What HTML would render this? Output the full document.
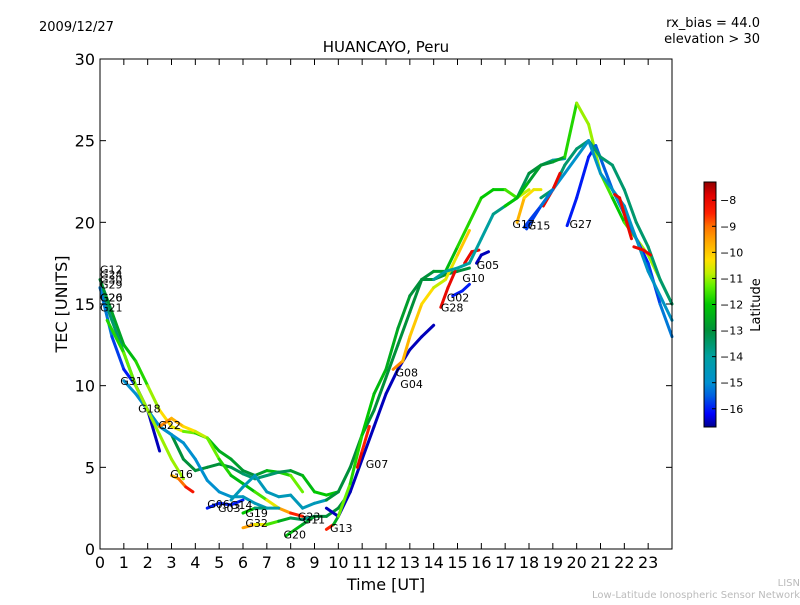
<!DOCTYPE html>
<html><head><meta charset="utf-8"><style>
body{margin:0;background:#fff;}
svg text{font-family:"DejaVu Sans","Liberation Sans",sans-serif;}
</style></head><body>
<svg id="chart" width="800" height="600" xmlns="http://www.w3.org/2000/svg">
<rect width="800" height="600" fill="#fff"/>
<text x="39" y="31" font-size="13">2009/12/27</text>
<text x="760" y="27" font-size="13" text-anchor="end">rx_bias = 44.0</text>
<text x="760" y="43" font-size="13" text-anchor="end">elevation &gt; 30</text>
<text x="386" y="52" font-size="15" text-anchor="middle">HUANCAYO, Peru</text>
<text x="67" y="304" font-size="16" text-anchor="middle" transform="rotate(-90 67 304)">TEC [UNITS]</text>
<text x="386" y="590" font-size="16" text-anchor="middle">Time [UT]</text>
<g id="tracks"></g>
<g id="labels"></g>
<rect x="100" y="59" width="572" height="490" fill="none" stroke="#000" stroke-width="1"/>
<g id="axes"></g>
<defs><linearGradient id="jet" x1="0" y1="1" x2="0" y2="0" id2="g"></linearGradient></defs>
<rect x="704" y="182" width="12" height="245" fill="url(#jet)" stroke="#000" stroke-width="1"/>
<g id="cbar"></g>
<text x="760" y="305" font-size="13" text-anchor="middle" transform="rotate(-90 760 305)">Latitude</text>
<text x="800" y="586" font-size="10" fill="#bbb" text-anchor="end">LISN</text>
<text x="800" y="598" font-size="10" fill="#bbb" text-anchor="end">Low-Latitude Ionospheric Sensor Network</text>
</svg>
<script>
const xTicks=[0,1,2,3,4,5,6,7,8,9,10,11,12,13,14,15,16,17,18,19,20,21,22,23];
const yTicks=[0,5,10,15,20,25,30];
const cbTicks=[-8,-9,-10,-11,-12,-13,-14,-15,-16];
const trackHours=[
[0,0.5,1,1.5,2,2.5,3,3.5,4,4.5,5,5.5,6,6.5,7,7.5,8,8.5],
[0,0.5,1,1.5,2,2.5,3,3.5,4,4.5,5,5.5,6,6.5,7,7.5,8,8.5,9,9.5,10],
[1,1.5,2,2.5,3,3.5,4,4.5,5,5.5,6,6.5,7],
[0,0.5,1,1.5,2,2.5],
[2.5,3,3.5,4,4.5,5,5.5,6,6.5,7,7.5,8,8.5],
[3,3.3,3.6,3.9],
[0.3,1,1.5,2,2.5,3,3.5],
[4.5,5,5.5,6],
[5.5,6,6.5,7,7.5,8,8.5,9,9.5],
[6,6.5,7,7.5,8,8.5,9],
[7.8,8.5,9,9.5,10,10.5],
[6,6.5,7,7.5],
[9.5,9.8,10,10.3,10.6],
[9.5,10,10.5,11,11.5,12,12.5,13,13.5,14],
[9.5,10,10.5,11,11.5,12,12.5,13,13.5,14,14.5,15,15.5],
[10,10.5,11,11.5,12,12.5,13,13.5,14,14.5,15,15.5,16,16.5,17,17.5,18],
[12.3,12.7,13,13.5,14,14.5,15,15.5],
[14.3,14.6,14.9],
[15.3,15.6,15.9],
[14,14.5,15,15.5,16,16.5,17,17.5,18,18.5,19,19.5],
[17,17.5,18,18.5,19,19.5,20,20.5,21,21.5,22,22.5,23,23.5,24],
[19.6,20,20.5,20.8,21.5,22,22.5,23,23.5,24],
[18.5,19,19.5,20,20.5,21,21.5,22,22.5,23,23.5,24],
[17.8,18.5,19,19.5,20,20.5,21,21.5,22,22.5,23,23.5,24],
[21.6,21.8,22.1,22.3],
[22.4,22.8,23.1],
[17.5,17.8,18.2,18.5],
[18.6,19,19.3],
[17.9,18.5,19],
[15.8,16,16.3],
[14.8,15.2,15.5],
[10.8,11,11.3]
];
const trackTec=[
[16.5,14.5,12.5,11.5,10,8.5,7.5,7.2,7.1,6.8,6,5.5,4.8,4.5,4.8,4.7,4.5,3.5],
[16,14,12,10,8.5,7.5,7,5.5,4.8,5,5.2,5,4.6,4.3,4.5,4.7,4.8,4.5,3.5,3.3,3.5],
[10.3,9.5,8.5,7.5,7,6.5,5.5,4.2,3.5,3.2,3.2,2.8,2.5],
[16,13,11,10,8.5,6],
[7.5,8,7.5,7.2,6.8,5.5,4.5,4,3.5,3,2.5,2.2,2],
[4.5,4.3,3.8,3.5],
[14,12,10,8.5,7,5.5,4.3],
[2.5,2.8,2.7,3],
[3,3.8,4.5,3.5,3.2,3.3,2.5,2.8,3],
[1.3,1.5,1.5,1.7,1.9,1.8,2],
[0.8,1.5,2,2,2.5,3.5],
[2.2,2.5,2.5,2.5],
[1.2,1.5,2,3,4],
[2.5,2,3.5,5.5,7.5,9.5,11,12.2,13,13.7],
[3,3.5,5,7,8.5,10.5,12.5,14.5,16.5,16.5,16.8,17,17.2],
[2,4,7,9.5,11,13.5,15.5,16.5,17,17,18.5,20,21.5,22,22,21.5,22],
[11,11.5,13,15,16,16.5,18,19.5],
[14.8,16,17],
[17.5,18.2,18.3],
[16.5,17,17.2,17.5,19,20.5,21,21.5,23,23.5,23.8,23.9],
[21,21.5,22.5,23.5,23.7,24,27.3,26,23,21.5,20,19,18,16.5,15],
[19.8,21.5,24,24.7,22,20.5,19,17.5,15,13],
[21.5,22,23.5,24.5,25,24,23.5,22,20,18.5,16.5,15],
[19.7,21,22,23,24,25,23,22,21,19,17,15.5,14],
[21.7,21.5,20,19],
[18.5,18.3,18],
[20,21.5,22,22],
[21,22,23],
[19.6,21,22],
[17.5,18,18.2],
[15.5,15.8,16.2],
[5,6,7.5]
];
const trackLat=[
[-13,-12.8,-12.5,-12,-11.5,-10.5,-10,-11,-11.5,-12,-12.5,-12.5,-13,-13,-12.5,-12,-11.5,-11],
[-13.5,-13.5,-13.5,-13.5,-13.5,-13,-13,-13,-13,-13,-13,-13,-13.5,-13.5,-13.5,-13.5,-13,-12.5,-12,-12,-12],
[-15,-15,-15,-15,-15,-15,-15,-15,-15,-14.8,-14.5,-14.5,-14.5],
[-15,-15.5,-16,-16,-16.5,-16.5],
[-9,-9.5,-10,-10.5,-11,-11.5,-12,-12.5,-12,-11,-10,-9,-8],
[-10,-9.5,-8.5,-8],
[-12,-11.5,-11,-11,-11,-11,-11],
[-16,-16,-16,-16],
[-14.5,-14.5,-14.5,-14.5,-14.5,-14.5,-14.5,-14.5,-14.5],
[-9,-10,-11,-12,-13,-13.5,-14],
[-12,-12.5,-13,-13,-13,-13],
[-11,-13,-14,-14.5],
[-8,-9,-16,-16.5,-16],
[-16.5,-16.5,-16.5,-16.5,-16.5,-16.5,-16.5,-16.5,-16.5,-16.5],
[-13,-13,-13,-13,-13,-13,-13,-13,-13,-13,-13,-13,-13],
[-11,-11.5,-12,-12,-12.5,-12.5,-13,-13,-13,-12.5,-12,-11.5,-12,-12,-12,-11,-10.5],
[-9,-9.5,-10,-10,-10.5,-11,-10,-10],
[-8,-8,-8],
[-8,-8,-8],
[-14,-14,-14,-14,-14,-14,-13.5,-13.5,-13,-13,-14,-14.5],
[-12,-12,-12.5,-13,-13,-12.5,-11,-11,-11,-12,-12,-11,-11,-11,-12],
[-16,-16,-16,-16,-15,-15,-16,-16,-15.5,-15],
[-13.5,-13.5,-13.5,-13.5,-13.5,-13.5,-13.5,-13.5,-13.5,-13.5,-13.5,-13.5],
[-16,-15.5,-15,-15,-14.8,-14.8,-14.8,-14.8,-14.8,-14.8,-14.8,-14.8,-14.8],
[-8,-8,-8,-8],
[-8,-8,-8],
[-9.5,-10,-10.5,-10.5],
[-8,-8,-8],
[-16,-15.5,-15],
[-16.5,-16.5,-16.5],
[-16,-16,-16],
[-8,-8,-9]
];
const labelNames=["G12","G24","G30","G29","G26","G20","G21","G31","G18","G22","G16","G06","G03","G14","G19","G32","G20","G23","G11","G13","G07","G08","G04","G02","G28","G10","G05","G17","G15","G27"];
const labelHours=[0,0,0,0,0,0,0,0.85,1.6,2.45,2.95,4.5,4.95,5.45,6.1,6.1,7.7,8.3,8.5,9.65,11.15,12.4,12.6,14.55,14.3,15.2,15.8,17.3,17.95,19.7];
const labelTec=[17.1,16.8,16.5,16.2,15.4,15.4,14.8,10.3,8.6,7.6,4.6,2.75,2.5,2.7,2.2,1.6,0.9,2.0,1.8,1.3,5.2,10.8,10.1,15.4,14.8,16.6,17.4,19.9,19.8,19.9];

const NS="http://www.w3.org/2000/svg";
const X=h=>100+h*(572/24);
const Y=v=>549-v*(490/30);
const latMin=-16.7,latMax=-7.3;
const CY=l=>427-(l-latMin)/(latMax-latMin)*245;
const cmap=[[-16.7,[0,0,140]],[-16.2,[0,0,255]],[-15.5,[0,96,224]],[-15,[0,144,208]],[-14,[0,160,160]],[-13,[0,144,58]],[-12,[0,200,0]],[-11.3,[96,240,0]],[-10.8,[192,240,0]],[-10.3,[255,224,0]],[-9.5,[255,160,0]],[-9,[255,112,0]],[-8.5,[255,32,0]],[-7.8,[224,0,0]],[-7.3,[144,0,0]]];
function jet(l){
 if(l<=cmap[0][0])return `rgb(${cmap[0][1]})`;
 for(let i=0;i<cmap.length-1;i++){const a=cmap[i],b=cmap[i+1];
  if(l<=b[0]){const t=(l-a[0])/(b[0]-a[0]);const c=a[1].map((v,j)=>Math.round(v+(b[1][j]-v)*t));return `rgb(${c})`;}}
 return `rgb(${cmap[cmap.length-1][1]})`;}
const grad=document.getElementById('jet');
cmap.forEach(s=>{const st=document.createElementNS(NS,'stop');
 st.setAttribute('offset',(s[0]-latMin)/(latMax-latMin));st.setAttribute('stop-color',`rgb(${s[1]})`);grad.appendChild(st);});
const tg=document.getElementById('tracks');
trackHours.forEach((hs,i)=>{
 for(let k=0;k<hs.length-1;k++){
  const ln=document.createElementNS(NS,'line');
  
  
  ln.setAttribute('x1',X(hs[k]));ln.setAttribute('y1',Y(trackTec[i][k]));
  ln.setAttribute('x2',X(hs[k+1]));ln.setAttribute('y2',Y(trackTec[i][k+1]));
  ln.setAttribute('stroke',jet((trackLat[i][k]+trackLat[i][k+1])/2));
  ln.setAttribute('stroke-width','3');ln.setAttribute('stroke-linecap','round');
  tg.appendChild(ln);
 }
});
const lg=document.getElementById('labels');
labelNames.forEach((n,i)=>{
 const t=document.createElementNS(NS,'text');
 
 
 t.setAttribute('x',X(labelHours[i]));t.setAttribute('y',Y(labelTec[i])+4);
 t.setAttribute('font-size','11');t.textContent=n;lg.appendChild(t);
});
const ag=document.getElementById('axes');
function mk(tag,attrs,name){const e=document.createElementNS(NS,tag);for(const k in attrs)e.setAttribute(k,attrs[k]);
 
 
 ag.appendChild(e);return e;}
xTicks.forEach(h=>{
 mk('line',{x1:X(h),x2:X(h),y1:549,y2:543,stroke:'#000'},'x-tick');
 mk('line',{x1:X(h),x2:X(h),y1:59,y2:65,stroke:'#000'},'x-tick-top');
 const t=mk('text',{x:X(h),y:568,'font-size':16,'text-anchor':'middle'},'x-tick-label');t.textContent=h;
});
yTicks.forEach(v=>{
 mk('line',{x1:100,x2:106,y1:Y(v),y2:Y(v),stroke:'#000'},'y-tick');
 mk('line',{x1:672,x2:666,y1:Y(v),y2:Y(v),stroke:'#000'},'y-tick-right');
 const t=mk('text',{x:95,y:Y(v)+6,'font-size':16,'text-anchor':'end'},'y-tick-label');t.textContent=v;
});
const cg=document.getElementById('cbar');
cbTicks.forEach(l=>{
 const a=document.createElementNS(NS,'line');
 
 
 a.setAttribute('x1',712);a.setAttribute('x2',716);a.setAttribute('y1',CY(l));a.setAttribute('y2',CY(l));a.setAttribute('stroke','#000');cg.appendChild(a);
 const t=document.createElementNS(NS,'text');
 
 
 t.setAttribute('x',720);t.setAttribute('y',CY(l)+4);t.setAttribute('font-size','11');t.textContent=String(l).replace('-','\u2212');cg.appendChild(t);
});
</script>
</body></html>
